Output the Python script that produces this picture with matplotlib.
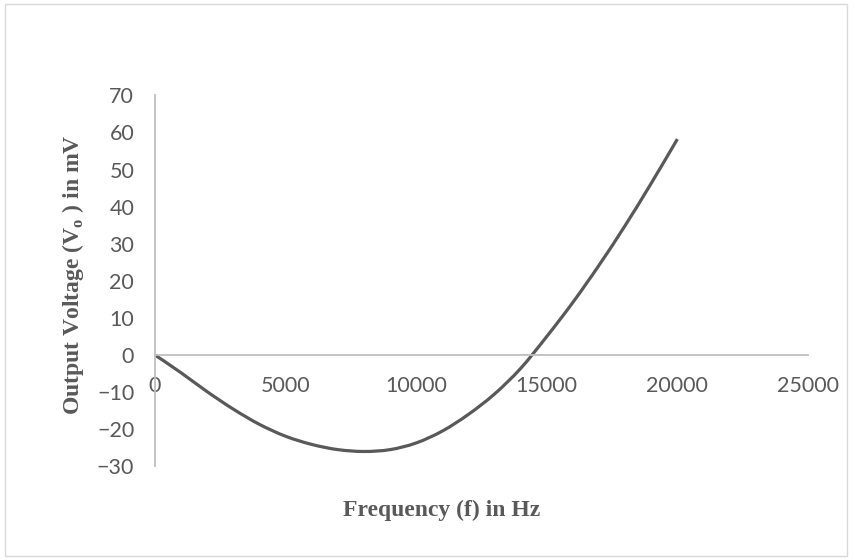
import matplotlib.pyplot as plt
from matplotlib.patches import Rectangle, PathPatch
from matplotlib.path import Path

plt.rcParams['mathtext.fontset'] = 'custom'
plt.rcParams['mathtext.rm'] = 'Liberation Serif:bold'

freq = [0, 1000, 2000, 3000, 4000, 5000, 6000, 7000, 8000, 9000, 10000,
        11000, 12000, 13000, 14000, 15000, 16000, 17000, 18000, 19000, 20000]
vout = [0, -4.8, -9.9, -14.6, -18.7, -21.9, -24.1, -25.5, -26.0, -25.5, -23.7,
        -20.5, -16.0, -10.5, -3.6, 5.0, 14.2, 24.2, 34.9, 46.3, 58.2]

xticks = [0, 5000, 10000, 15000, 20000, 25000]
yticks = [-30, -20, -10, 0, 10, 20, 30, 40, 50, 60, 70]

grey = '#595959'
axis_grey = '#BFBFBF'


def smooth_path(xs, ys):
    # Excel-style smoothed line: Catmull-Rom segments as cubic Beziers
    verts = [(xs[0], ys[0])]
    codes = [Path.MOVETO]
    n = len(xs)
    for i in range(n - 1):
        x0, y0 = xs[max(i - 1, 0)], ys[max(i - 1, 0)]
        x1, y1 = xs[i], ys[i]
        x2, y2 = xs[i + 1], ys[i + 1]
        x3, y3 = xs[min(i + 2, n - 1)], ys[min(i + 2, n - 1)]
        c1 = (x1 + (x2 - x0) / 6, y1 + (y2 - y0) / 6)
        c2 = (x2 - (x3 - x1) / 6, y2 - (y3 - y1) / 6)
        verts += [c1, c2, (x2, y2)]
        codes += [Path.CURVE4] * 3
    return Path(verts, codes)


fig = plt.figure(figsize=(8.55, 5.6), dpi=100)
fig.patches.append(Rectangle((0.006, 0.008), 0.985, 0.984, transform=fig.transFigure,
                             fill=False, edgecolor='#D9D9D9', linewidth=1))

ax = fig.add_axes([0.1813, 0.1673, 0.7637, 0.6625])
ax.add_patch(PathPatch(smooth_path(freq, vout), fill=False, edgecolor=grey,
                       linewidth=2.3, capstyle='butt'))

ax.set_xlim(0, 25000)
ax.set_ylim(-30, 70)
ax.set_xticks(xticks)
ax.set_yticks(yticks)

ax.spines['top'].set_visible(False)
ax.spines['right'].set_visible(False)
ax.spines['bottom'].set_position(('data', 0))
for s in ('left', 'bottom'):
    ax.spines[s].set_color(axis_grey)
    ax.spines[s].set_linewidth(1.3)

ax.tick_params(axis='x', length=0, pad=15, labelsize=15.5, labelcolor=grey)
ax.tick_params(axis='y', length=0, pad=15, labelsize=15.5, labelcolor=grey)
for lab in ax.get_xticklabels() + ax.get_yticklabels():
    lab.set_family('Lato')

fig.text(442 / 855, 1 - 510 / 560, 'Frequency (f) in Hz', ha='center', va='center',
         family='Liberation Serif', weight='bold', fontsize=17, color=grey)
fig.text(73 / 855, 1 - 275 / 560, r'Output Voltage (V$_{\mathrm{o}}$ ) in mV',
         ha='center', va='center', rotation=90,
         family='Liberation Serif', weight='bold', fontsize=17, color=grey)

fig.savefig('out.png', dpi=100)
